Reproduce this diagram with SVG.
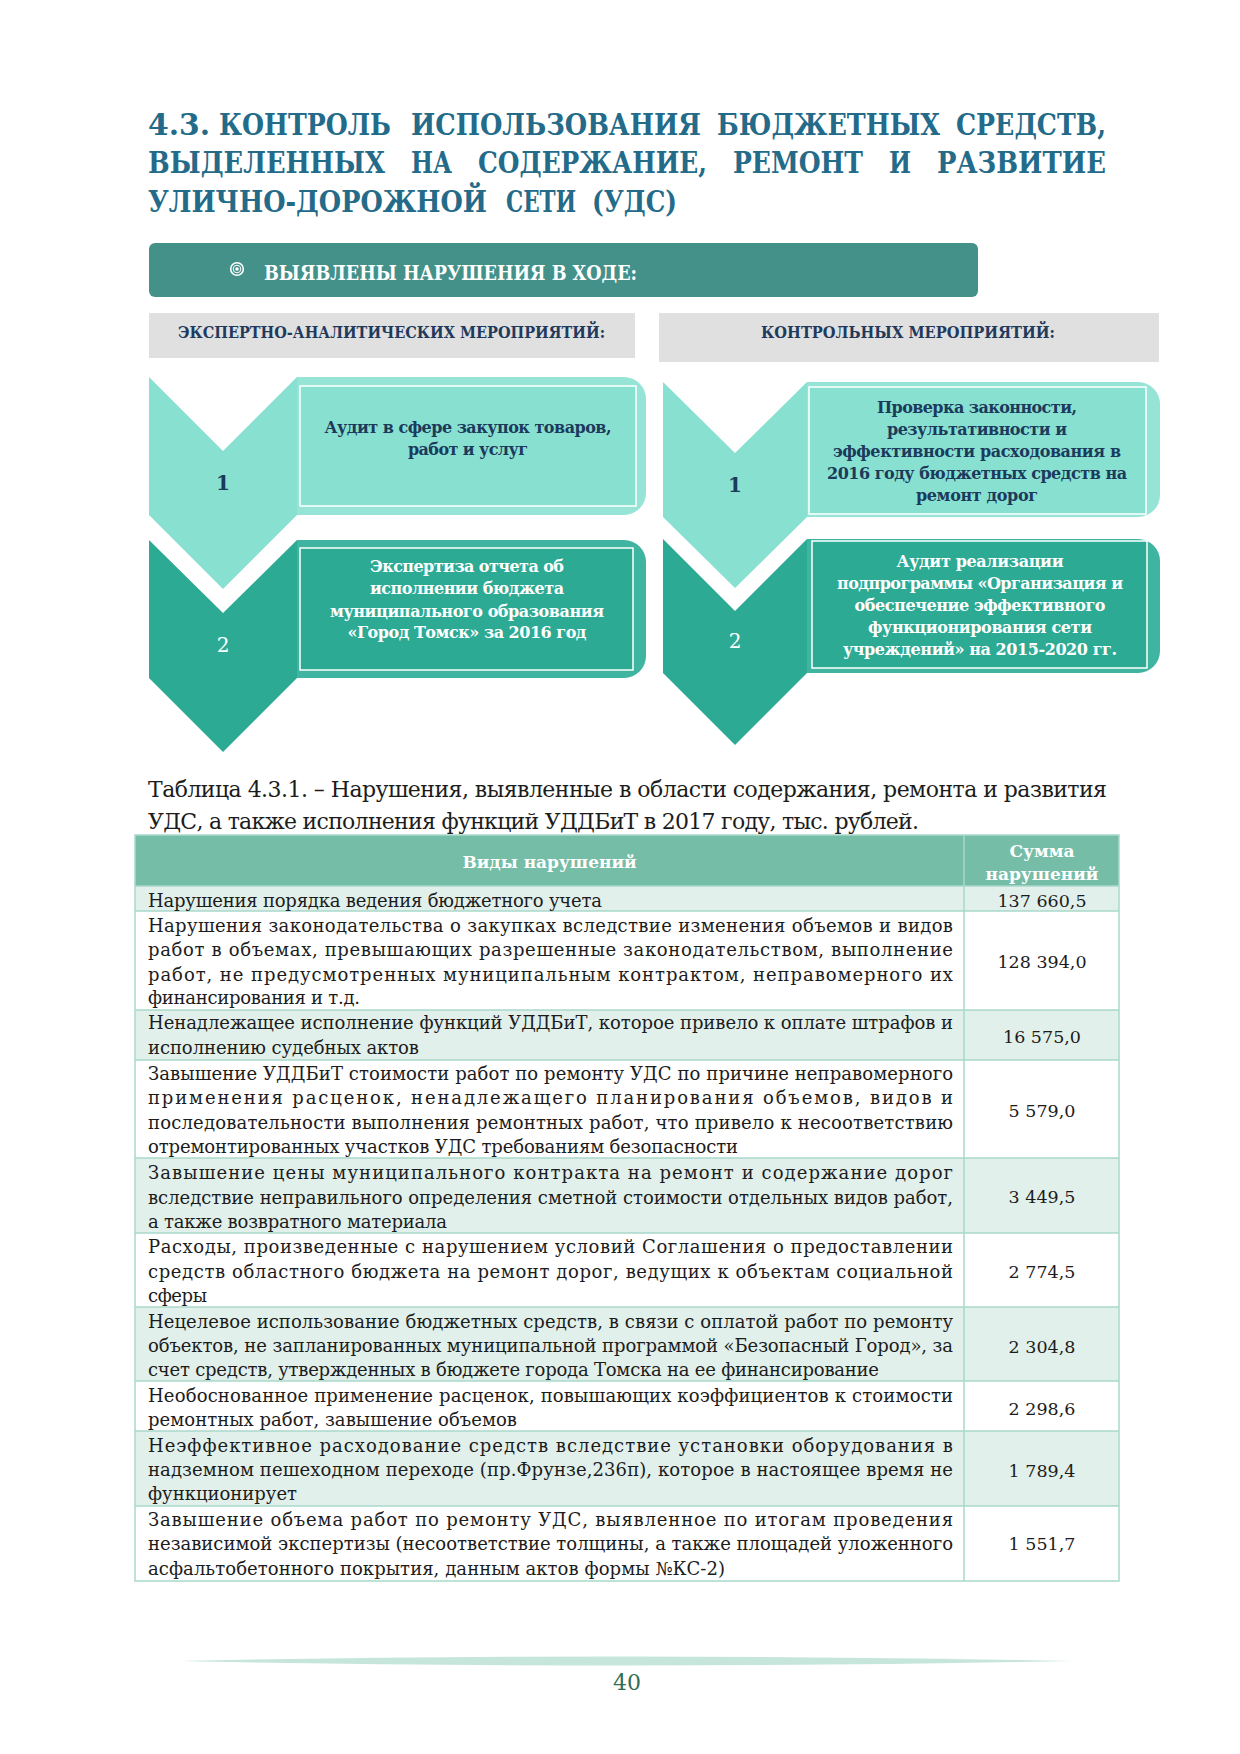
<svg xmlns="http://www.w3.org/2000/svg" width="1240" height="1754" viewBox="0 0 1240 1754">
<style>
  .title { font-family: "DejaVu Serif", "Liberation Serif", serif; font-weight: bold; font-size: 23px; fill: #246B8A; }
  .banner-t { font-family: "DejaVu Serif", "Liberation Serif", serif; font-weight: bold; font-size: 20px; fill: #FFFFFF; }
  .grey-t { font-family: "DejaVu Serif", "Liberation Serif", serif; font-weight: bold; font-size: 17px; fill: #1F3A5C; }
  .box-d { font-family: "DejaVu Serif", "Liberation Serif", serif; font-weight: bold; font-size: 16px; fill: #1B3A5C; text-anchor: middle; }
  .box-w { font-family: "DejaVu Serif", "Liberation Serif", serif; font-weight: bold; font-size: 16px; fill: #FFFFFF; text-anchor: middle; }
  .num-d { font-family: "DejaVu Serif", "Liberation Serif", serif; font-weight: bold; font-size: 20px; fill: #1B3A5C; text-anchor: middle; }
  .num-w { font-family: "DejaVu Serif", "Liberation Serif", serif; font-size: 20px; fill: #FFFFFF; text-anchor: middle; }
  .cap { font-family: "DejaVu Serif", "Liberation Serif", serif; font-size: 22px; fill: #1C1C1C; }
  .td { font-family: "DejaVu Serif", "Liberation Serif", serif; font-size: 18px; fill: #1C1C1C; }
  .tv { font-family: "DejaVu Serif", "Liberation Serif", serif; font-size: 17.5px; fill: #1C1C1C; text-anchor: middle; }
  .th { font-family: "DejaVu Serif", "Liberation Serif", serif; font-weight: bold; font-size: 17px; fill: #FFFFFF; text-anchor: middle; }
  .light-ch { fill: #88E0D0; }
  .light-out { fill: #95E4D6; }
  .light-in { fill: #88E0D0; stroke: #FFFFFF; stroke-width: 1.5; }
  .dark-ch { fill: #2DAA94; }
  .dark-out { fill: #3FB4A0; }
  .dark-in { fill: #2DAA94; stroke: #FFFFFF; stroke-width: 1.5; }
  .shade { fill: #E2F0EB; }
  .grid { stroke: #A9D9CB; stroke-width: 1.5; fill: none; }
</style>

<rect x="0" y="0" width="1240" height="1754" fill="#FFFFFF"/>

<g id="title" transform="scale(1,1.3)">
  <text class="title" y="103.85"><tspan x="148" textLength="62" lengthAdjust="spacingAndGlyphs">4.3.</tspan><tspan x="219" textLength="172" lengthAdjust="spacingAndGlyphs">КОНТРОЛЬ</tspan><tspan x="411" textLength="290" lengthAdjust="spacingAndGlyphs">ИСПОЛЬЗОВАНИЯ</tspan><tspan x="717" textLength="223" lengthAdjust="spacingAndGlyphs">БЮДЖЕТНЫХ</tspan><tspan x="956" textLength="150" lengthAdjust="spacingAndGlyphs">СРЕДСТВ,</tspan></text>
  <text class="title" y="133.08"><tspan x="148" textLength="237" lengthAdjust="spacingAndGlyphs">ВЫДЕЛЕННЫХ</tspan><tspan x="411" textLength="41" lengthAdjust="spacingAndGlyphs">НА</tspan><tspan x="478" textLength="229" lengthAdjust="spacingAndGlyphs">СОДЕРЖАНИЕ,</tspan><tspan x="733" textLength="130" lengthAdjust="spacingAndGlyphs">РЕМОНТ</tspan><tspan x="889" textLength="22" lengthAdjust="spacingAndGlyphs">И</tspan><tspan x="937" textLength="169" lengthAdjust="spacingAndGlyphs">РАЗВИТИЕ</tspan></text>
  <text class="title" y="163.08"><tspan x="148" textLength="339" lengthAdjust="spacingAndGlyphs">УЛИЧНО-ДОРОЖНОЙ</tspan><tspan x="506" textLength="70" lengthAdjust="spacingAndGlyphs">СЕТИ</tspan><tspan x="592" textLength="85" lengthAdjust="spacingAndGlyphs">(УДС)</tspan></text>
</g>

<g id="banner">
  <rect x="149" y="243" width="829" height="54" rx="6" fill="#44918A"/>
  <circle cx="237" cy="269" r="6.3" fill="none" stroke="#FFFFFF" stroke-width="1.6"/>
  <circle cx="237" cy="269" r="3.8" fill="none" stroke="#FFFFFF" stroke-width="1"/>
  <circle cx="237" cy="269" r="1.8" fill="#FFFFFF"/>
  <text class="banner-t" x="264" y="280" textLength="373" lengthAdjust="spacingAndGlyphs">ВЫЯВЛЕНЫ НАРУШЕНИЯ В ХОДЕ:</text>
</g>

<g id="header-expert">
  <rect x="149" y="313" width="486" height="45" fill="#E0E0E0"/>
  <text class="grey-t" x="178" y="338" textLength="427" lengthAdjust="spacingAndGlyphs">ЭКСПЕРТНО-АНАЛИТИЧЕСКИХ МЕРОПРИЯТИЙ:</text>
</g>

<g id="header-control">
  <rect x="659" y="313" width="500" height="49" fill="#E0E0E0"/>
  <text class="grey-t" x="761" y="338" textLength="294" lengthAdjust="spacingAndGlyphs">КОНТРОЛЬНЫХ МЕРОПРИЯТИЙ:</text>
</g>

<g id="step-left-1">
  <path class="light-out" d="M297,377 H624 A22,22 0 0 1 646,399 V493 A22,22 0 0 1 624,515 H297 Z"/>
  <polygon class="light-ch" points="149,377 223,451 297,377 297,515 223,589 149,515"/>
  <rect class="light-in" x="300" y="386" width="336" height="120"/>
  <text class="num-d" x="223" y="490">1</text>
  <text class="box-d" x="468" y="433" textLength="287" lengthAdjust="spacing">Аудит в сфере закупок товаров,</text>
  <text class="box-d" x="468" y="455" textLength="120" lengthAdjust="spacing">работ и услуг</text>
</g>

<g id="step-left-2">
  <path class="dark-out" d="M297,540 H624 A22,22 0 0 1 646,562 V656 A22,22 0 0 1 624,678 H297 Z"/>
  <polygon class="dark-ch" points="149,540 223,613 297,540 297,678 223,752 149,678"/>
  <rect class="dark-in" x="300" y="548" width="333" height="122"/>
  <text class="num-w" x="223" y="652">2</text>
  <text class="box-w" x="467" y="572" textLength="194" lengthAdjust="spacing">Экспертиза отчета об</text>
  <text class="box-w" x="467" y="594" textLength="194" lengthAdjust="spacing">исполнении бюджета</text>
  <text class="box-w" x="467" y="617" textLength="274" lengthAdjust="spacing">муниципального образования</text>
  <text class="box-w" x="467" y="638" textLength="239" lengthAdjust="spacing">«Город Томск» за 2016 год</text>
</g>

<g id="step-right-1">
  <path class="light-out" d="M807,382 H1138 A22,22 0 0 1 1160,404 V495 A22,22 0 0 1 1138,517 H807 Z"/>
  <polygon class="light-ch" points="663,382 735,453 807,382 807,517 735,588 663,517"/>
  <rect class="light-in" x="809" y="387" width="337" height="127"/>
  <text class="num-d" x="735" y="492">1</text>
  <text class="box-d" x="977" y="413" textLength="200" lengthAdjust="spacing">Проверка законности,</text>
  <text class="box-d" x="977" y="435" textLength="180" lengthAdjust="spacing">результативности и</text>
  <text class="box-d" x="977" y="457" textLength="288" lengthAdjust="spacing">эффективности расходования в</text>
  <text class="box-d" x="977" y="479" textLength="300" lengthAdjust="spacing">2016 году бюджетных средств на</text>
  <text class="box-d" x="977" y="501" textLength="122" lengthAdjust="spacing">ремонт дорог</text>
</g>

<g id="step-right-2">
  <path class="dark-out" d="M807,539 H1138 A22,22 0 0 1 1160,561 V651 A22,22 0 0 1 1138,673 H807 Z"/>
  <polygon class="dark-ch" points="663,539 735,611 807,539 807,673 735,745 663,673"/>
  <rect class="dark-in" x="812" y="541" width="335" height="127"/>
  <text class="num-w" x="735" y="648">2</text>
  <text class="box-w" x="980" y="567" textLength="167" lengthAdjust="spacing">Аудит реализации</text>
  <text class="box-w" x="980" y="589" textLength="286" lengthAdjust="spacing">подпрограммы «Организация и</text>
  <text class="box-w" x="980" y="611" textLength="251" lengthAdjust="spacing">обеспечение эффективного</text>
  <text class="box-w" x="980" y="633" textLength="224" lengthAdjust="spacing">функционирования сети</text>
  <text class="box-w" x="980" y="655" textLength="274" lengthAdjust="spacing">учреждений» на 2015-2020 гг.</text>
</g>

<g id="connectors"></g>

<g id="caption">
  <text class="cap" x="148" y="797" textLength="959" lengthAdjust="spacing">Таблица 4.3.1. – Нарушения, выявленные в области содержания, ремонта и развития</text>
  <text class="cap" x="148" y="829" textLength="771" lengthAdjust="spacing">УДС, а также исполнения функций УДДБиТ в 2017 году, тыс. рублей.</text>
</g>

<g id="table">
  <rect x="135" y="835" width="984" height="51" fill="#75BDA7"/>
  <rect class="shade" x="135" y="886" width="984" height="25"/>
  <rect class="shade" x="135" y="1010" width="984" height="50"/>
  <rect class="shade" x="135" y="1158" width="984" height="75"/>
  <rect class="shade" x="135" y="1307" width="984" height="74"/>
  <rect class="shade" x="135" y="1431" width="984" height="75"/>
  <g class="grid">
    <rect x="135" y="835" width="984" height="746"/>
    <line x1="964" y1="835" x2="964" y2="1581"/>
    <line x1="135" y1="886" x2="1119" y2="886"/>
    <line x1="135" y1="911" x2="1119" y2="911"/>
    <line x1="135" y1="1010" x2="1119" y2="1010"/>
    <line x1="135" y1="1060" x2="1119" y2="1060"/>
    <line x1="135" y1="1158" x2="1119" y2="1158"/>
    <line x1="135" y1="1233" x2="1119" y2="1233"/>
    <line x1="135" y1="1307" x2="1119" y2="1307"/>
    <line x1="135" y1="1381" x2="1119" y2="1381"/>
    <line x1="135" y1="1431" x2="1119" y2="1431"/>
    <line x1="135" y1="1506" x2="1119" y2="1506"/>
  </g>
  <text class="th" x="549.5" y="868">Виды нарушений</text>
  <text class="th" x="1042" y="857">Сумма</text>
  <text class="th" x="1042" y="880">нарушений</text>

  <text class="td" x="148" y="907" textLength="454" lengthAdjust="spacing">Нарушения порядка ведения бюджетного учета</text>
  <text class="tv" x="1042" y="907">137 660,5</text>

  <text class="td" x="148" y="932" textLength="805" lengthAdjust="spacing">Нарушения законодательства о закупках вследствие изменения объемов и видов</text>
  <text class="td" x="148" y="956" textLength="805" lengthAdjust="spacing">работ в объемах, превышающих разрешенные законодательством, выполнение</text>
  <text class="td" x="148" y="981" textLength="805" lengthAdjust="spacing">работ, не предусмотренных муниципальным контрактом, неправомерного их</text>
  <text class="td" x="148" y="1004" textLength="212" lengthAdjust="spacing">финансирования и т.д.</text>
  <text class="tv" x="1042" y="968">128 394,0</text>

  <text class="td" x="148" y="1029" textLength="805" lengthAdjust="spacing">Ненадлежащее исполнение функций УДДБиТ, которое привело к оплате штрафов и</text>
  <text class="td" x="148" y="1054" textLength="271" lengthAdjust="spacing">исполнению судебных актов</text>
  <text class="tv" x="1042" y="1043">16 575,0</text>

  <text class="td" x="148" y="1080" textLength="805" lengthAdjust="spacing">Завышение УДДБиТ стоимости работ по ремонту УДС по причине неправомерного</text>
  <text class="td" x="148" y="1104" textLength="805" lengthAdjust="spacing">применения расценок, ненадлежащего планирования объемов, видов и</text>
  <text class="td" x="148" y="1129" textLength="805" lengthAdjust="spacing">последовательности выполнения ремонтных работ, что привело к несоответствию</text>
  <text class="td" x="148" y="1153" textLength="590" lengthAdjust="spacing">отремонтированных участков УДС требованиям безопасности</text>
  <text class="tv" x="1042" y="1117">5 579,0</text>

  <text class="td" x="148" y="1179" textLength="805" lengthAdjust="spacing">Завышение цены муниципального контракта на ремонт и содержание дорог</text>
  <text class="td" x="148" y="1204" textLength="805" lengthAdjust="spacing">вследствие неправильного определения сметной стоимости отдельных видов работ,</text>
  <text class="td" x="148" y="1228" textLength="299" lengthAdjust="spacing">а также возвратного материала</text>
  <text class="tv" x="1042" y="1203">3 449,5</text>

  <text class="td" x="148" y="1253" textLength="805" lengthAdjust="spacing">Расходы, произведенные с нарушением условий Соглашения о предоставлении</text>
  <text class="td" x="148" y="1278" textLength="805" lengthAdjust="spacing">средств областного бюджета на ремонт дорог, ведущих к объектам социальной</text>
  <text class="td" x="148" y="1302" textLength="59" lengthAdjust="spacing">сферы</text>
  <text class="tv" x="1042" y="1278">2 774,5</text>

  <text class="td" x="148" y="1328" textLength="805" lengthAdjust="spacing">Нецелевое использование бюджетных средств, в связи с оплатой работ по ремонту</text>
  <text class="td" x="148" y="1352" textLength="805" lengthAdjust="spacing">объектов, не запланированных муниципальной программой «Безопасный Город», за</text>
  <text class="td" x="148" y="1376" textLength="731" lengthAdjust="spacing">счет средств, утвержденных в бюджете города Томска на ее финансирование</text>
  <text class="tv" x="1042" y="1353">2 304,8</text>

  <text class="td" x="148" y="1402" textLength="805" lengthAdjust="spacing">Необоснованное применение расценок, повышающих коэффициентов к стоимости</text>
  <text class="td" x="148" y="1426" textLength="369" lengthAdjust="spacing">ремонтных работ, завышение объемов</text>
  <text class="tv" x="1042" y="1415">2 298,6</text>

  <text class="td" x="148" y="1452" textLength="805" lengthAdjust="spacing">Неэффективное расходование средств вследствие установки оборудования в</text>
  <text class="td" x="148" y="1476" textLength="805" lengthAdjust="spacing">надземном пешеходном переходе (пр.Фрунзе,236п), которое в настоящее время не</text>
  <text class="td" x="148" y="1500" textLength="149" lengthAdjust="spacing">функционирует</text>
  <text class="tv" x="1042" y="1477">1 789,4</text>

  <text class="td" x="148" y="1526" textLength="805" lengthAdjust="spacing">Завышение объема работ по ремонту УДС, выявленное по итогам проведения</text>
  <text class="td" x="148" y="1550" textLength="805" lengthAdjust="spacing">независимой экспертизы (несоответствие толщины, а также площадей уложенного</text>
  <text class="td" x="148" y="1575" textLength="577" lengthAdjust="spacing">асфальтобетонного покрытия, данным актов формы №КС-2)</text>
  <text class="tv" x="1042" y="1550">1 551,7</text>
</g>

<g id="footer">
  <path d="M178,1661 Q627,1652 1074,1661 Q627,1670 178,1661 Z" fill="#C6E5DB"/>
  <text x="627" y="1690" font-family="DejaVu Serif, Liberation Serif, serif" font-size="22" fill="#2F6E58" text-anchor="middle">40</text>
</g>
</svg>
